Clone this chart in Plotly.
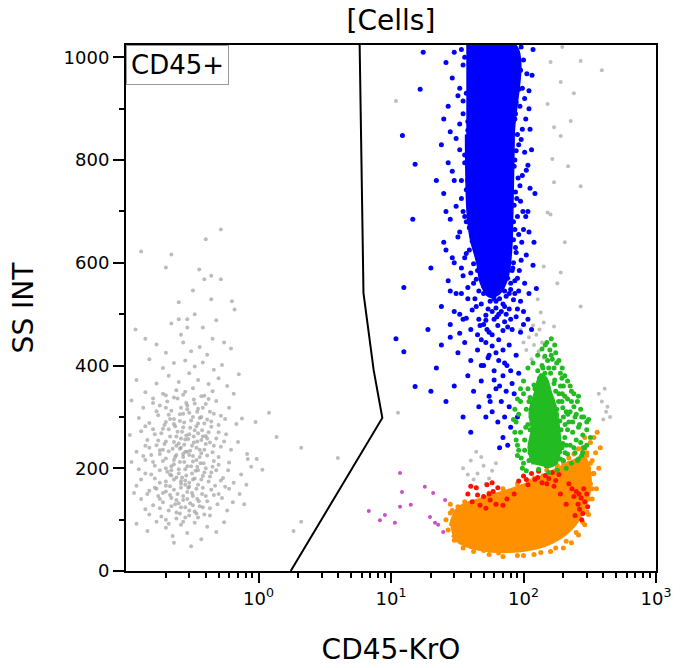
#!/usr/bin/python3
"""Recreates the CD45 gating dot plot (CD45-KrO vs SS INT)."""
import plotly.graph_objects as go

# Gate drawn on the plot (CD45+)
gate_x = [5.8, 6.2, 7.4, 8.6, 1.75]
gate_y = [1024, 541, 391, 298, 0]

# Debris / CD45- events on the left (gray)
debris_pts = [
    (0.13, 622), (0.22, 616), (0.40, 646), (0.52, 665), (0.20, 591), (0.357, 587), (0.39, 568),
    (0.44, 575), (0.52, 568), (0.32, 546), (0.25, 523), (0.44, 529), (0.63, 525), (0.66, 509),
    (0.25, 490), (0.29, 490), (0.38, 474), (0.29, 474), (0.26, 460), (0.45, 452), (0.55, 445),
    (0.17, 441), (0.33, 500), (0.22, 482), (0.48, 488), (0.36, 436), (0.14, 452), (0.31, 428),
    (0.20, 425), (0.41, 421), (0.27, 445), (0.62, 433), (0.118, 470),
    (0.15, 412), (0.19, 395), (0.23, 405), (0.28, 410), (0.33, 398), (0.38, 406), (0.46, 392),
    (0.53, 401), (0.71, 383), (0.12, 372), (0.17, 365), (0.21, 380), (0.25, 368), (0.30, 385),
    (0.35, 372), (0.42, 364), (0.50, 375), (0.58, 360), (0.14, 348), (0.24, 352), (0.27, 343),
    (0.32, 356), (0.39, 341), (0.45, 350), (0.65, 345), (0.20, 342),
    (0.11, 332), (0.135, 318), (0.16, 336), (0.18, 322), (0.205, 330), (0.22, 312), (0.245, 336),
    (0.26, 318), (0.285, 327), (0.30, 308), (0.325, 334), (0.35, 316), (0.37, 300), (0.40, 325),
    (0.43, 310), (0.48, 331), (0.52, 302), (0.60, 318), (0.75, 297), (0.125, 298), (0.15, 288),
    (0.175, 303), (0.195, 284), (0.215, 296), (0.235, 282), (0.255, 305), (0.275, 289), (0.31, 293),
    (0.34, 282), (0.36, 298), (0.39, 287), (0.44, 291), (0.50, 284), (0.56, 296), (0.68, 286),
    (0.107, 265), (0.13, 272), (0.145, 255), (0.16, 276), (0.17, 245), (0.185, 268), (0.20, 252),
    (0.21, 276), (0.225, 238), (0.24, 262), (0.25, 248), (0.265, 271), (0.28, 256), (0.29, 232),
    (0.30, 266), (0.315, 244), (0.33, 274), (0.345, 252), (0.36, 236), (0.38, 262), (0.40, 247),
    (0.42, 270), (0.45, 231), (0.48, 258), (0.52, 242), (0.57, 266), (0.62, 236), (0.70, 251),
    (0.82, 228), (0.12, 232), (0.155, 226), (0.19, 236), (0.235, 222), (0.27, 228), (0.32, 224),
    (0.37, 229), (0.43, 250), (0.14, 244), (0.26, 240), (0.35, 268),
    (0.11, 212), (0.125, 198), (0.14, 216), (0.155, 188), (0.165, 205), (0.18, 172), (0.19, 214),
    (0.205, 193), (0.215, 165), (0.23, 208), (0.24, 182), (0.25, 198), (0.26, 170), (0.275, 212),
    (0.285, 186), (0.295, 162), (0.31, 204), (0.32, 178), (0.335, 195), (0.35, 168), (0.365, 210),
    (0.38, 185), (0.40, 200), (0.42, 174), (0.44, 192), (0.47, 166), (0.50, 207), (0.54, 181),
    (0.59, 196), (0.65, 172), (0.74, 188), (0.88, 203), (0.13, 178), (0.17, 160), (0.22, 186),
    (0.28, 176), (0.34, 216), (0.46, 214), (0.56, 164), (0.20, 200),
    (0.115, 152), (0.13, 140), (0.15, 156), (0.16, 128), (0.175, 146), (0.19, 134), (0.20, 155),
    (0.21, 118), (0.22, 142), (0.235, 130), (0.245, 150), (0.255, 112), (0.27, 138), (0.28, 124),
    (0.29, 154), (0.305, 132), (0.32, 146), (0.33, 116), (0.345, 140), (0.36, 126), (0.375, 150),
    (0.39, 110), (0.41, 136), (0.43, 122), (0.46, 148), (0.49, 130), (0.53, 142), (0.58, 118),
    (0.64, 134), (0.72, 150), (0.14, 120), (0.185, 106), (0.24, 102), (0.30, 108), (0.35, 104),
    (0.12, 92), (0.145, 78), (0.17, 96), (0.20, 84), (0.225, 68), (0.26, 90), (0.29, 74),
    (0.33, 94), (0.37, 62), (0.41, 86), (0.48, 76), (0.55, 95), (0.23, 55), (0.31, 48),
    (1.2, 308), (1.37, 261), (2.1, 240), (3.97, 220), (2.1, 96), (1.84, 78), (1.07, 197),
    (0.97, 218), (0.83, 218), (0.81, 168), (0.95, 290), (0.78, 130),
    # denser centre of the debris cloud
    (0.19, 345), (0.23, 338), (0.28, 349), (0.33, 326), (0.37, 340), (0.29, 322), (0.42, 335),
    (0.16, 327), (0.17, 311), (0.20, 318), (0.23, 296), (0.27, 306), (0.29, 315), (0.32, 300),
    (0.345, 310), (0.38, 318), (0.41, 295), (0.46, 306), (0.21, 304), (0.255, 292),
    (0.14, 282), (0.165, 266), (0.19, 277), (0.215, 262), (0.23, 286), (0.245, 271), (0.27, 280),
    (0.285, 264), (0.305, 279), (0.325, 262), (0.35, 287), (0.375, 274), (0.40, 263), (0.44, 281),
    (0.50, 270), (0.20, 290), (0.26, 258),
    (0.15, 240), (0.175, 254), (0.195, 247), (0.21, 233), (0.23, 251), (0.255, 238), (0.275, 246),
    (0.295, 257), (0.305, 234), (0.325, 250), (0.34, 240), (0.37, 255), (0.39, 236), (0.41, 258),
    (0.46, 244), (0.55, 252), (0.18, 235), (0.24, 244),
    (0.135, 224), (0.16, 212), (0.18, 228), (0.20, 219), (0.22, 204), (0.24, 226), (0.255, 212),
    (0.27, 222), (0.29, 204), (0.30, 226), (0.32, 213), (0.345, 203), (0.36, 222), (0.385, 210),
    (0.41, 225), (0.45, 203), (0.50, 222), (0.60, 211), (0.23, 216), (0.28, 232),
    (0.14, 190), (0.165, 180), (0.18, 196), (0.20, 174), (0.215, 188), (0.23, 178), (0.25, 190),
    (0.265, 182), (0.28, 198), (0.30, 172), (0.315, 190), (0.33, 180), (0.35, 196), (0.37, 178),
    (0.39, 192), (0.43, 184), (0.48, 196), (0.52, 176), (0.22, 196), (0.26, 175),
    (0.12, 166), (0.145, 150), (0.165, 162), (0.18, 140), (0.20, 166), (0.215, 148), (0.23, 158),
    (0.24, 138), (0.26, 162), (0.27, 146), (0.29, 140), (0.30, 164), (0.315, 152), (0.34, 160),
    (0.355, 136), (0.38, 162), (0.40, 146), (0.44, 158), (0.50, 150), (0.60, 160), (0.19, 152),
    (0.25, 132), (0.28, 168),
    (0.15, 110), (0.18, 122), (0.20, 100), (0.22, 126), (0.24, 114), (0.26, 124), (0.28, 104),
    (0.30, 118), (0.32, 128), (0.34, 112), (0.38, 124), (0.43, 108), (0.21, 92), (0.27, 96),
]

# Other ungated gray events inside the CD45+ gate
gray_pts = [
    (10.9, 915), (11.3, 308), (196, 1020), (270, 993), (160, 991), (191, 952), (152, 909),
    (170, 864), (191, 847), (227, 876), (165, 802), (217, 788), (270, 749), (170, 757), (152, 698),
    (160, 694), (142, 593), (191, 581), (270, 515), (135, 503), (142, 484), (170, 476), (128, 529),
    (390, 975), (240, 930), (205, 640), (180, 560),
    (95, 470), (110, 455), (120, 440), (130, 428), (142, 415), (105, 430), (125, 460), (138, 445),
    (115, 412), (100, 445), (118, 478), (132, 470),
    (35, 200), (40, 215), (45, 190), (50, 205), (55, 180), (42, 178), (48, 222), (38, 188),
    (58, 195), (52, 170), (62, 210), (44, 232),
    (390, 330), (420, 310), (450, 300), (400, 295), (370, 345), (430, 320), (410, 355),
]

# Magenta events near the gate
magenta_pts = [
    (11.7, 191), (12.1, 154), (6.8, 117), (9.0, 109), (8.25, 99), (11.7, 125), (14.1, 129),
    (10.7, 94), (18, 164), (20.8, 152), (25.6, 138), (21.5, 94), (22.7, 90), (19.7, 105), (24.8, 76),
]

# Granulocytes (blue): dense core outline and surrounding events
blue_core_x = [37, 86, 84, 82, 80, 75, 65, 55, 48, 45, 40, 38, 37]
blue_core_y = [1024, 1024, 850, 700, 620, 570, 540, 535, 560, 600, 650, 700, 850]
blue_pts = [
    (30, 1010), (35, 985), (33, 940), (27, 905), (38, 875), (31, 842), (36, 810), (29, 778),
    (40, 760), (34, 725), (26, 700), (37, 680), (32, 650), (39, 625), (30, 600), (35, 575),
    (42, 560), (28, 545), (38, 530), (44, 515), (33, 500), (46, 490), (40, 470), (50, 480),
    (55, 465), (48, 450), (24, 830), (22, 760), (25, 640), (20, 590), (45, 995), (42, 940),
    (44, 870), (43, 805), (41, 735), (46, 700), (43, 640), (47, 610), (45, 585), (38, 760),
    (88, 1000), (95, 975), (90, 950), (102, 920), (87, 890), (98, 860), (92, 830), (86, 800),
    (105, 780), (94, 750), (89, 725), (99, 700), (84, 680), (92, 655), (87, 630), (96, 605),
    (83, 590), (90, 570), (80, 560), (86, 540), (95, 525), (78, 510), (88, 495), (72, 485),
    (82, 470), (100, 480), (110, 900), (115, 820), (108, 700), (120, 640), (125, 550),
    (118, 1015), (84, 930), (82, 850), (80, 740), (76, 640),
    (52, 590), (58, 575), (63, 560), (68, 548), (57, 538), (62, 525), (70, 520), (54, 510),
    (65, 500), (60, 490), (74, 535), (66, 580), (50, 555), (76, 570), (58, 505),
    (36, 1000), (39, 968), (37, 930), (40, 912), (35, 890), (38, 858), (40, 830), (36, 795),
    (39, 770), (37, 742), (40, 718), (36, 690), (39, 668), (41, 642), (37, 618), (42, 598),
    (40, 580), (44, 568), (38, 552), (46, 545), (43, 530), (41, 508), (48, 520), (52, 498),
    (47, 478),
    (86, 1010), (90, 985), (87, 962), (92, 938), (88, 912), (86, 880), (90, 850), (88, 818),
    (85, 788), (91, 765), (87, 738), (85, 712), (90, 690), (86, 665), (84, 645), (88, 620),
    (84, 600), (82, 585), (86, 565), (80, 548), (84, 528), (78, 540), (90, 510), (74, 500),
    (80, 490),
    (26, 990), (29, 960), (32, 925), (25, 880), (28, 855), (33, 820), (27, 795), (30, 760),
    (25, 735), (31, 710), (28, 685), (33, 660), (26, 625), (29, 610), (34, 590), (27, 565),
    (31, 540), (24, 515), (30, 505), (35, 490), (28, 480), (33, 463), (37, 492), (34, 540),
    (36, 610), (35, 700), (34, 760), (33, 870), (35, 915), (34, 1015),
    (96, 1020), (100, 995), (106, 968), (98, 940), (110, 935), (94, 905), (104, 880), (112, 860),
    (96, 840), (102, 815), (108, 790), (98, 770), (112, 745), (95, 720), (104, 690), (100, 665),
    (110, 660), (97, 640), (105, 615), (93, 585), (102, 560), (110, 540), (92, 545), (100, 505),
    (108, 490), (95, 465), (115, 470), (118, 595), (122, 735), (116, 965),
    (55, 552), (60, 545), (66, 530), (72, 545), (50, 540), (62, 512), (68, 505), (56, 525),
    (52, 488), (64, 478), (70, 468), (58, 460), (76, 475), (60, 530), (66, 556), (53, 470),
    (72, 515), (63, 495),
    (45, 460), (52, 445), (58, 438), (65, 450), (70, 430), (78, 440), (62, 425), (54, 415),
    (48, 400), (72, 405), (80, 390), (60, 372), (66, 360), (74, 350), (56, 330), (82, 365),
    (19, 470), (24, 440), (28, 455), (32, 425), (36, 445), (40, 410), (45, 430), (50, 400),
    (55, 420), (60, 390), (65, 410), (70, 380), (75, 400), (48, 370), (42, 350), (38, 380),
    (30, 360), (26, 330), (22, 395), (55, 340), (62, 355), (68, 330), (58, 310), (64, 290),
    (72, 300), (78, 320), (52, 300), (46, 320), (85, 345), (80, 280), (70, 260), (76, 245),
    (66, 240), (90, 300), (35, 300), (40, 270), (20, 350), (88, 420), (92, 385),
    (12.2, 848), (12.5, 552), (10.9, 452), (12.5, 427), (15.2, 359), (15.2, 792), (14.6, 685),
    (16.6, 938), (17.5, 1010),
]

# Lymphocytes (orange): dense core outline and surrounding events
orange_core_x = [28, 32, 47, 95, 160, 240, 285, 320, 285, 225, 146, 80, 47, 33, 29]
orange_core_y = [88, 122, 140, 165, 192, 215, 222, 175, 120, 80, 50, 38, 42, 55, 70]
orange_pts = [
    (28, 113), (30, 95), (32, 125), (34, 80), (36, 108), (33, 60), (38, 90), (42, 118), (31, 70),
    (46, 130), (40, 48), (48, 105), (65, 140), (78, 150), (95, 160), (60, 120), (85, 130),
    (110, 175), (125, 168), (140, 185), (160, 190), (180, 200), (200, 205), (220, 210),
    (240, 200), (255, 190), (300, 230), (320, 250), (340, 260), (360, 270), (330, 215),
    (310, 200), (350, 230), (300, 180), (320, 170), (330, 140), (310, 110), (290, 90), (260, 70),
    (230, 55), (200, 45), (160, 38), (120, 32), (90, 30), (65, 35), (50, 40), (380, 240),
    (370, 200), (340, 190), (355, 160), (280, 240), (290, 260), (270, 215),
    (26, 100), (29, 118), (27, 80), (30, 60), (35, 45), (42, 38), (55, 32), (70, 28), (100, 30),
    (135, 36), (175, 45), (210, 58), (250, 75), (280, 95), (300, 115), (315, 140), (330, 160),
    (335, 190), (320, 210), (300, 225), (280, 232), (260, 238), (240, 228), (220, 220),
    (200, 212), (180, 205), (150, 196), (120, 180), (90, 170), (70, 160), (55, 152), (36, 135),
    (28, 130),
]

# Red events on the upper edge of the lymphocytes
red_pts = [
    (38, 150), (41, 135), (44, 162), (47, 128), (50, 145), (53, 168), (56, 138), (59, 155),
    (62, 130), (64, 162), (45, 148), (52, 122), (58, 172), (40, 165), (55, 150),
    (92, 175), (100, 185), (108, 168), (115, 190), (122, 178), (130, 194), (138, 172), (146, 186),
    (155, 180), (165, 192), (175, 176), (185, 188), (105, 178), (128, 182), (150, 170), (170, 165),
    (232, 160), (240, 145), (250, 155), (258, 130), (265, 120), (272, 142), (280, 112), (290, 135),
    (300, 150), (305, 125), (245, 108), (285, 160), (262, 150), (275, 100),
    (75, 140), (85, 150), (70, 128), (190, 150), (210, 130), (220, 170),
]

# Monocytes (green): dense core outline and surrounding events
green_core_x = [118, 110, 116, 112, 122, 135, 148, 160, 174, 184, 188, 176, 150]
green_core_y = [208, 240, 275, 310, 345, 382, 375, 348, 320, 280, 240, 210, 202]
green_pts = [
    (150, 445), (158, 430), (145, 418), (165, 412), (172, 440), (138, 400), (155, 395), (178, 405),
    (128, 390), (190, 385), (162, 452),
    (100, 370), (108, 355), (120, 362), (130, 340), (145, 350), (170, 365), (185, 345), (200, 360),
    (215, 335), (230, 350), (95, 330), (105, 315), (112, 338), (125, 320), (140, 310), (160, 325),
    (178, 315), (195, 330), (210, 310), (240, 320), (260, 340), (250, 305), (92, 305), (100, 345),
    (88, 290), (95, 270), (102, 255), (108, 285), (118, 265), (128, 290), (138, 250), (150, 280),
    (160, 260), (172, 290), (182, 245), (192, 275), (205, 260), (220, 290), (235, 270), (250, 255),
    (265, 285), (280, 265), (300, 275), (320, 260), (90, 245), (200, 300), (225, 245), (275, 300),
    (285, 240),
    (90, 225), (100, 210), (112, 230), (125, 215), (135, 235), (148, 205), (160, 225), (175, 212),
    (188, 232), (200, 215), (215, 228), (230, 210), (245, 230), (260, 218), (275, 225), (290, 240),
    (105, 195), (130, 198), (155, 192), (180, 196), (210, 200),
    (102, 235), (110, 215), (118, 245), (126, 228), (134, 260), (142, 222), (150, 240), (158, 212),
    (166, 248), (174, 230), (182, 262), (190, 218), (198, 248), (206, 230), (104, 280), (114, 300),
    (124, 275), (132, 312), (146, 295), (156, 318), (168, 282), (178, 305), (188, 292), (198, 318),
    (206, 285), (216, 305), (110, 330), (122, 355), (136, 332), (148, 365), (160, 340), (172, 372),
    (184, 330), (196, 345), (140, 395), (152, 410), (160, 385), (170, 395), (132, 375), (120, 300),
    (108, 395), (118, 405), (128, 420), (138, 432), (146, 440), (162, 420), (175, 425), (185, 410),
    (196, 395), (205, 380), (215, 370), (225, 360), (240, 345), (255, 330), (270, 315), (285, 300),
    (300, 290), (95, 355), (90, 335), (86, 315), (84, 295), (86, 270), (88, 255), (92, 235),
    (96, 220), (98, 200), (230, 330), (245, 300), (260, 280), (270, 250), (280, 230), (235, 290),
    (215, 275), (225, 310), (205, 340), (190, 360), (145, 385), (118, 325), (112, 275), (130, 265),
    (165, 300), (180, 270), (195, 240), (210, 245), (240, 240), (255, 215), (300, 245), (310, 295),
    (195, 375), (175, 350),
]

# Axis ticks
x_tick_vals = [1, 10, 100, 1000]
x_tick_text = ["10<sup>0</sup>", "10<sup>1</sup>", "10<sup>2</sup>", "10<sup>3</sup>"]
x_minor_vals = [m * d for d in [0.1, 1, 10, 100] for m in range(2, 10)]
y_tick_vals = [0, 200, 400, 600, 800, 1000]


def dots(points, color, size=5, opacity=1.0):
    """Build a scatter trace of single events."""
    xs, ys = zip(*points)
    return go.Scatter(x=xs, y=ys, mode="markers", hoverinfo="skip", showlegend=False,
                      marker=dict(color=color, size=size, opacity=opacity, line=dict(width=0)))


def core(xs, ys, color):
    """Build a filled trace for the saturated centre of a population."""
    return go.Scatter(x=xs, y=ys, mode="lines", fill="toself", fillcolor=color, hoverinfo="skip",
                      line=dict(width=3, color=color, shape="spline"), showlegend=False)


fig = go.Figure()
fig.add_trace(dots(debris_pts, "#a0a0a0", size=4, opacity=0.7))
fig.add_trace(dots(gray_pts, "#a8a8a8", size=4, opacity=0.75))
fig.add_trace(dots(magenta_pts, "#c850c8", size=4))
fig.add_trace(dots(blue_pts, "#0000ff", size=5))
fig.add_trace(core(blue_core_x, blue_core_y, "#0000ff"))
fig.add_trace(core(orange_core_x, orange_core_y, "#ff9000"))
fig.add_trace(dots(orange_pts, "#ff9000", size=5))
fig.add_trace(dots(red_pts, "#ff1000", size=5))
fig.add_trace(dots(green_pts, "#22bb22", size=5))
fig.add_trace(core(green_core_x, green_core_y, "#22bb22"))

# Gate line
fig.add_trace(go.Scatter(x=gate_x, y=gate_y, mode="lines", line=dict(color="black", width=2),
                         hoverinfo="skip", showlegend=False))

font = "'DejaVu Sans', sans-serif"
fig.update_layout(
    width=688, height=668,
    margin=dict(l=126, r=32, t=45, b=97),
    paper_bgcolor="white", plot_bgcolor="white",
    font=dict(family=font, color="black", size=18),
    title=dict(text="[Cells]", x=0.5, xref="paper", y=0.970, yref="container", yanchor="middle",
               font=dict(size=28, family=font, color="black")),
    xaxis=dict(
        type="log", range=[-1, 3], tickvals=x_tick_vals, ticktext=x_tick_text, automargin=False,
        ticks="outside", ticklen=10, tickwidth=2, tickcolor="black",
        showline=True, linecolor="black", linewidth=2, mirror=True, showgrid=False, zeroline=False,
        minor=dict(tickvals=x_minor_vals, ticks="outside", ticklen=5, tickwidth=1.5,
                   tickcolor="black", showgrid=False),
        title=dict(text="CD45-KrO", font=dict(size=28, family=font), standoff=32),
        tickfont=dict(size=18),
    ),
    yaxis=dict(
        range=[0, 1024], tickvals=y_tick_vals, automargin=False,
        ticks="outside", ticklen=11, tickwidth=2, tickcolor="black",
        showline=True, linecolor="black", linewidth=2, mirror=True, showgrid=False, zeroline=False,
        minor=dict(dtick=100, ticks="outside", ticklen=5, tickwidth=1.5, tickcolor="black",
                   showgrid=False),
        title=dict(text="SS INT", font=dict(size=28, family=font), standoff=22),
        tickfont=dict(size=18),
    ),
)

# Gate label
fig.add_annotation(text="CD45+", xref="paper", yref="paper", x=0, y=1, xanchor="left",
                   yanchor="top", showarrow=False, font=dict(size=26, family=font, color="black"),
                   bgcolor="white", bordercolor="#999999", borderwidth=1, borderpad=4)

# Drop the page margin so the figure sits at the window's top-left corner
fig.write_html("out.html", config={"displayModeBar": False},
               post_script="document.body.style.margin = '0';")
